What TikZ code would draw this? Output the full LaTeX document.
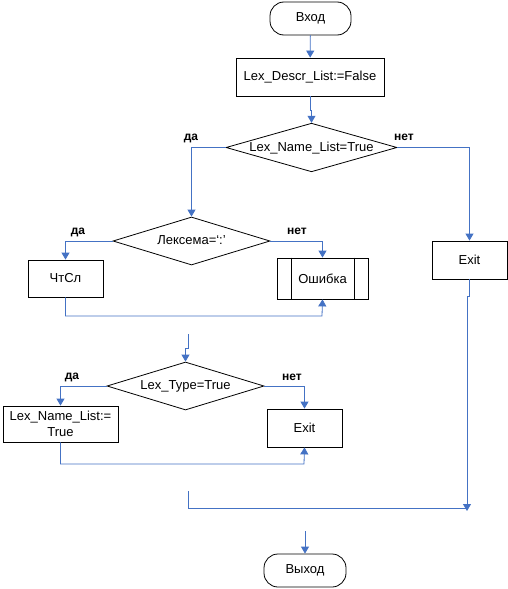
\documentclass[tikz,border=0pt]{standalone}
\usepackage{fontspec}
\setmainfont{Liberation Sans}
\usetikzlibrary{shapes.geometric,arrows.meta}
\definecolor{flowblue}{RGB}{68,114,196}
\begin{document}
\begin{tikzpicture}[x=1pt,y=-1pt,
	font=\fontsize{13}{15}\selectfont,
	term/.style={draw,line width=.8pt,rounded corners=14pt,minimum width=81pt,minimum height=33pt,inner sep=0},
	proc/.style={draw,line width=.8pt,minimum width=#1,minimum height=38pt,inner sep=0,align=center},
	decide/.style={draw,diamond,line width=.8pt,inner sep=0,aspect=3.3,text height=9pt,text depth=2pt},
	yn/.style={font=\fontsize{12}{13}\selectfont\bfseries,inner sep=0},
	flow/.style={draw=flowblue,line width=.8pt,-{Triangle[width=8pt,length=7pt]}},
	link/.style={draw=flowblue,line width=.8pt}]
	\useasboundingbox (0,0) rectangle (508,589);
	
	% top part
	\node[term] (start) at (310.5,18.5) {Вход};
	\node[proc=148pt] (init) at (310,77) {Lex\_Descr\_List:=False};
	\node[decide,minimum width=171pt,minimum height=47pt] (nameq) at (311.5,147.5) {Lex\_Name\_List=True};
	\node[yn] (nameyes) at (191,138) {да};
	\node[yn] (nameno) at (404,137.5) {нет};
	\draw[flow] (start) -- (init);
	\draw[flow] (init.south) -- (310,110) -| (nameq.north);
	
	% lexeme check
	\node[decide,minimum width=157pt,minimum height=48pt] (lexq) at (191.5,241) {Лексема=‘:’};
	\node[yn] (lexyes) at (78,232) {да};
	\node[yn] (lexno) at (297,231.5) {нет};
	\node[proc=75pt,minimum height=37pt] (readnum) at (65.5,278.5) {ЧтСл};
	\node[proc=91pt,minimum height=41pt] (err) at (322.5,278.5) {Ошибка};
	\draw[line width=.8pt] ([xshift=15pt]err.north west) -- ([xshift=15pt]err.south west);
	\draw[line width=.8pt] ([xshift=-14pt]err.north east) -- ([xshift=-14pt]err.south east);
	\draw[flow] (nameq.west) -| (lexq.north);
	\draw[flow] (lexq.west) -| (readnum.north);
	\draw[flow] (lexq.east) -| (err.north);
	\coordinate (join1) at (322,316);
	\draw[flow] (readnum.south) |- (join1) -- (err.south);
	
	% type check
	\coordinate (gap1) at (188,334);
	\node[decide,minimum width=157pt,minimum height=48pt] (typeq) at (185.5,386) {Lex\_Type=True};
	\node[yn] (typeyes) at (72,377) {да};
	\node[yn] (typeno) at (292,377) {нет};
	\node[proc=115pt,minimum height=36pt,font=\fontsize{13}{16}\selectfont] (setname) at (60.5,424) {Lex\_Name\_List:=\\True};
	\node[proc=75pt] (exitone) at (304.5,428) {Exit};
	\draw[flow] (gap1) -- (188,348) -| (typeq.north);
	\draw[flow] (typeq.west) -| (setname.north);
	\draw[flow] (typeq.east) -| (exitone.north);
	\coordinate (join2) at (304,464);
	\draw[flow] (setname.south) |- (join2) -- (exitone.south);
	
	% right branch and end
	\node[proc=75pt] (exittwo) at (469.5,260) {Exit};
	\draw[flow] (nameq.east) -| (exittwo.north);
	\coordinate (join3) at (467,511);
	\coordinate (gap2) at (188,491);
	\draw[flow] (exittwo.south) -- (469.5,296) -| (join3);
	\draw[link] (gap2) |- (467,508);
	\coordinate (gap3) at (305,531);
	\node[term,minimum width=82pt] (stop) at (305,570.5) {Выход};
	\draw[flow] (gap3) -- (stop);
\end{tikzpicture}
\end{document}
